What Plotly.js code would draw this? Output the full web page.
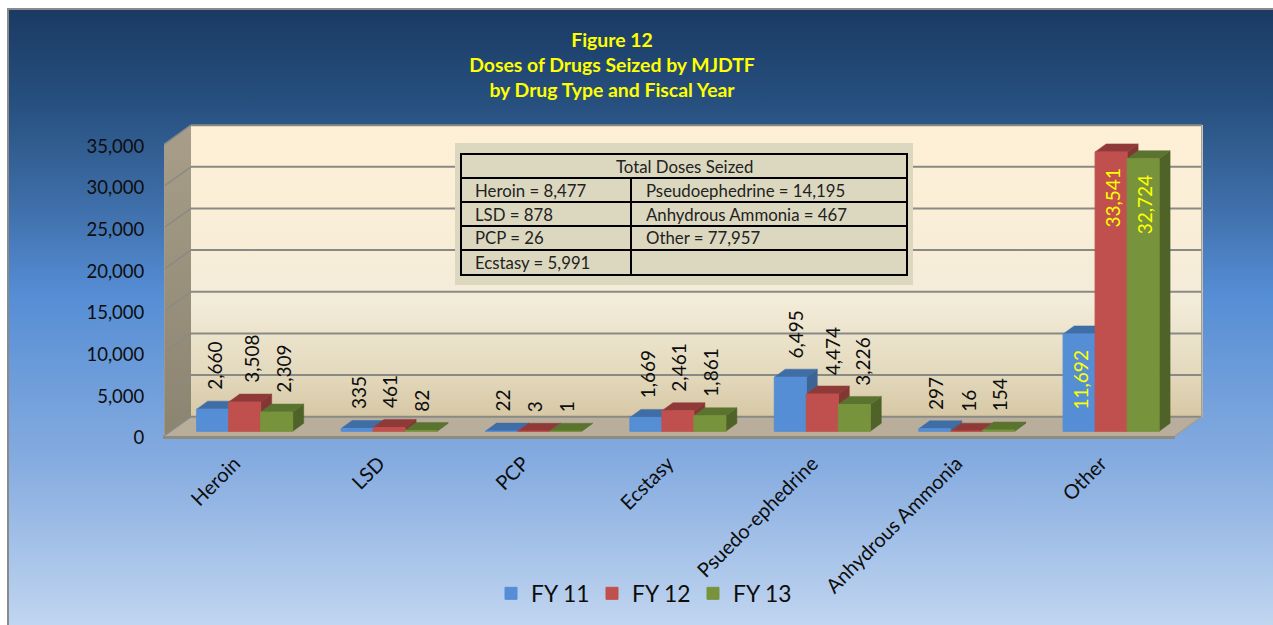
<!DOCTYPE html>
<html>
<head>
<meta charset="utf-8">
<script src="https://cdn.plot.ly/plotly-3.0.1.min.js"></script>
<style>html,body{margin:0;padding:0;background:#fff;overflow:hidden}#chart{width:1273px;height:625px}</style>
</head>
<body>
<div id="chart"></div>
<script>
// ---- data ----
const categories = ['Heroin','LSD','PCP','Ecstasy','Psuedo-ephedrine','Anhydrous Ammonia','Other'];
const fy11 = [2660,335,22,1669,6495,297,11692];
const fy12 = [3508,461,3,2461,4474,16,33541];
const fy13 = [2309,82,1,1861,3226,154,32724];
const seriesNames = ['FY 11','FY 12','FY 13'];
const yTicks = [0,5000,10000,15000,20000,25000,30000,35000];
const titleLines = ['Figure 12','Doses of Drugs Seized by MJDTF','by Drug Type and Fiscal Year'];
const tableHeader = 'Total Doses Seized';
const tableLeft = ['Heroin = 8,477','LSD = 878','PCP = 26','Ecstasy = 5,991'];
const tableRight = ['Pseudoephedrine = 14,195','Anhydrous Ammonia = 467','Other = 77,957',''];

// ---- style ----
const FONT = 'Lato, sans-serif';
const TEXT = '#0d0d0d';
const frontColors = ['#558ed5','#c0504d','#77933c'];
const topColors = ['#3f6da5','#8f3a38','#5a7430'];
const sideColors = ['#3c6596','#843634','#4f6228'];
// hand-moved data labels in the original (category index, series index -> px)
const labelNudge = {'0,1':5,'0,2':5,'4,0':4,'4,1':9,'4,2':7};

// ---- geometry ----
const W = 1273, H = 625;
const M = {l:164, r:70, t:124, b:187, autoexpand:false};
const PW = W-M.l-M.r, PH = H-M.t-M.b;
const catPx = 144.4, zeroCatPx = 244.7;
const valPx = 0.00833, zeroValPx = 431.3;
const xRange = [(M.l-zeroCatPx)/catPx, (W-M.r-zeroCatPx)/catPx];
const yRange = [(zeroValPx-(H-M.b))/valPx, (zeroValPx-M.t)/valPx];
const tickZeroPx = 437.7;
const y2Range = [(tickZeroPx-(H-M.b))/valPx, (tickZeroPx-M.t)/valPx];
const px2x = p => (p-M.l)/PW;                 // page x -> paper
const px2y = p => 1-(p-M.t)/PH;               // page y -> paper
const barW = 32/catPx;
const depthX = 11/catPx, depthY = 8/valPx;

// back wall / front plane as offsets from the bar plane
const backDX = (191-172.5)/catPx, backDY = (zeroValPx-416.7)/valPx;
const frontDX = (164-172.5)/catPx, frontDY = (zeroValPx-436)/valPx;
const x0Slot = -0.5, x1Slot = categories.length-0.5;

const paperRect = (x0,y0,x1,y1,fill,line,lw,layer) => ({type:'rect',xref:'paper',yref:'paper',
  x0:px2x(x0),x1:px2x(x1),y0:px2y(y0),y1:px2y(y1),fillcolor:fill,
  line:{color:line||'rgba(0,0,0,0)',width:lw||0},layer:layer||'below'});
const poly = (pts,fill,line,lw) => ({type:'path',xref:'x',yref:'y',layer:'below',
  path:'M'+pts.map(p=>p[0]+','+p[1]).join('L')+'Z',fillcolor:fill,line:{color:line||fill,width:lw===undefined?0.5:lw}});

const gradImage = (stops,points) => 'data:image/svg+xml;utf8,'+encodeURIComponent(
  `<svg xmlns="http://www.w3.org/2000/svg" viewBox="0 0 100 100" preserveAspectRatio="none" width="100" height="100">`+
  `<defs><linearGradient id="g" x1="0" y1="0" x2="0" y2="1">`+
  stops.map(s=>`<stop offset="${s[0]}" stop-color="${s[1]}"/>`).join('')+
  `</linearGradient></defs><polygon points="${points}" fill="url(#g)"/></svg>`);
const pageImage = (x0,y0,x1,y1,src) => ({source:src,xref:'paper',yref:'paper',x:px2x(x0),y:px2y(y0),
  sizex:(x1-x0)/PW,sizey:(y1-y0)/PH,sizing:'stretch',xanchor:'left',yanchor:'top',layer:'below'});

const images = [
  pageImage(8,9,1273,640,gradImage([[0,'#1a3a63'],[0.15,'#27507f'],[0.3,'#3d6ca6'],[0.45,'#558dd4'],[0.72,'#86ace0'],[1,'#c6d9f1']],'0,0 100,0 100,100 0,100')),
  pageImage(191,125,1203,417,gradImage([[0,'#fef0d6'],[0.3,'#faeed7'],[0.6,'#f3ecd9'],[0.85,'#e3d9bd'],[1,'#d7c8a5']],'0,0 100,0 100,100 0,100')),
  pageImage(164,125,191,436,gradImage([[0,'#a89e89'],[1,'#8b8470']],'0,6.4 100,0 100,93.9 0,100'))
];

// ---- shapes ----
const shapes = [];
// frame
shapes.push(paperRect(8,9,1290,660,'rgba(0,0,0,0)','#8a8a8a',2));
// floor
const fx0 = x0Slot+frontDX, fx1 = x1Slot+frontDX, bx0 = x0Slot+backDX, bx1 = x1Slot+backDX;
const fy = frontDY, by = backDY;
shapes.push(poly([[bx0,by],[bx1,by],[fx1,fy],[fx0,fy]],'#b8ae9b','#b8ae9b',0));
shapes.push(paperRect(163,435,1175,439,'#8f8b80'));
// gridlines: back wall + side wall
yTicks.forEach(v=>{
  shapes.push({type:'line',xref:'x',yref:'y',layer:'below',x0:bx0,x1:bx1,y0:v+by,y1:v+by,line:{color:'#8a8a85',width:2}});
  shapes.push({type:'line',xref:'x',yref:'y',layer:'below',x0:fx0,x1:bx0,y0:v+fy,y1:v+by,line:{color:'#8a8a85',width:1.5}});
});
// wall outline
shapes.push({type:'line',xref:'x',yref:'y',layer:'below',x0:bx1,x1:bx1,y0:by,y1:35000+by,line:{color:'#a09d96',width:1.5}});
shapes.push({type:'line',xref:'x',yref:'y',layer:'below',x0:bx1,x1:fx1,y0:by,y1:fy,line:{color:'#a09d96',width:1.5}});
shapes.push({type:'line',xref:'x',yref:'y',layer:'below',x0:fx0,x1:fx0,y0:fy,y1:35000+fy,line:{color:'#a09d96',width:1.5}});

// 3-D bar faces, painted left to right, computed from the values
const series = [fy11,fy12,fy13];
categories.forEach((c,i)=>{
  series.forEach((vals,s)=>{
    const v = vals[i];
    const xl = i+(s-1.5)*barW, xr = xl+barW;
    shapes.push(poly([[xr,0],[xr+depthX,depthY],[xr+depthX,v+depthY],[xr,v]],sideColors[s]));
    shapes.push(poly([[xl,v],[xr,v],[xr+depthX,v+depthY],[xl+depthX,v+depthY]],topColors[s]));
  });
});

// summary table inset
const colX = [461,631,907];
const rowY = [154,178,202,226,250,275];
shapes.push(paperRect(455,143,913,285,'#dcd8c0',null,0,'above'));
shapes.push(paperRect(colX[0],rowY[0],colX[2],rowY[5],'rgba(0,0,0,0)','#000',2,'above'));
rowY.slice(1,-1).forEach(y=>shapes.push({type:'line',xref:'paper',yref:'paper',layer:'above',
  x0:px2x(colX[0]),x1:px2x(colX[2]),y0:px2y(y),y1:px2y(y),line:{color:'#000',width:2}}));
shapes.push({type:'line',xref:'paper',yref:'paper',layer:'above',x0:px2x(colX[1]),x1:px2x(colX[1]),
  y0:px2y(rowY[1]),y1:px2y(rowY[5]),line:{color:'#000',width:2}});

// ---- annotations ----
const annotations = [];
const fmt = v => v.toLocaleString('en-US');
categories.forEach((c,i)=>{
  series.forEach((vals,s)=>{
    const v = vals[i], inside = v > 10000;
    annotations.push({x:i+(s-1)*barW,y:v,xref:'x',yref:'y',text:fmt(v),showarrow:false,textangle:-90,
      yanchor:inside?'top':'bottom',yshift:inside?-15:17,xanchor:'center',xshift:1+(labelNudge[i+','+s]||0),
      font:{family:FONT,size:19,color:inside?'#ffff00':TEXT}});
  });
});
const cellText = (text,px,py,anchor) => ({xref:'paper',yref:'paper',x:px2x(px),y:px2y(py),text,showarrow:false,
  xanchor:anchor,yanchor:'middle',font:{family:FONT,size:16.8,color:'#222'}});
annotations.push(cellText(tableHeader,(colX[0]+colX[2])/2,166,'center'));
tableLeft.forEach((t,r)=>annotations.push(cellText(t,473,rowY[r+1]+12,'left')));
tableRight.forEach((t,r)=>{ if(t) annotations.push(cellText(t,643.5,rowY[r+1]+12,'left')); });

// ---- traces ----
const traces = series.map((vals,s)=>({type:'bar',name:seriesNames[s],x:categories,y:vals,
  marker:{color:frontColors[s],line:{width:1,color:frontColors[s]}},hoverinfo:'x+y'}));

const layout = {
  width:W,height:H,autosize:false,
  margin:M,
  paper_bgcolor:'#ffffff',plot_bgcolor:'rgba(0,0,0,0)',
  barmode:'group',bargap:0.335,bargroupgap:0,
  font:{family:FONT,color:TEXT},
  title:{text:titleLines.join('<br>'),xref:'paper',yref:'container',x:px2x(612),xanchor:'center',y:1-47/H,yanchor:'middle',
    font:{family:FONT,size:19.4,color:'#ffff00',weight:700}},
  xaxis:{type:'category',categoryorder:'array',categoryarray:categories,range:xRange,showgrid:false,zeroline:false,showline:false,
    ticks:'outside',ticklen:5,tickcolor:'rgba(0,0,0,0)',tickangle:-45,ticklabelshift:-10,tickfont:{family:FONT,size:20,color:TEXT}},
  yaxis:{range:yRange,visible:false,showgrid:false,zeroline:false,fixedrange:true},
  yaxis2:{overlaying:'y',side:'left',anchor:'x',range:y2Range,tickvals:yTicks,ticktext:yTicks.map(fmt),showgrid:false,zeroline:false,showline:false,
    ticks:'outside',ticklen:15,tickcolor:'rgba(0,0,0,0)',tickfont:{family:FONT,size:18.5,color:TEXT}},
  legend:{orientation:'h',xref:'paper',yref:'paper',x:px2x(491),y:px2y(572),xanchor:'left',yanchor:'top',
    font:{family:FONT,size:22.8,color:TEXT},bgcolor:'rgba(0,0,0,0)',entrywidth:56,entrywidthmode:'pixels',itemclick:false,itemdoubleclick:false},
  images,shapes,annotations
};
traces.push({type:'scatter',x:[null],y:[null],yaxis:'y2',showlegend:false,hoverinfo:'skip',mode:'markers'});
Plotly.newPlot('chart',traces,layout,{displayModeBar:false,responsive:false});
</script>
</body>
</html>
